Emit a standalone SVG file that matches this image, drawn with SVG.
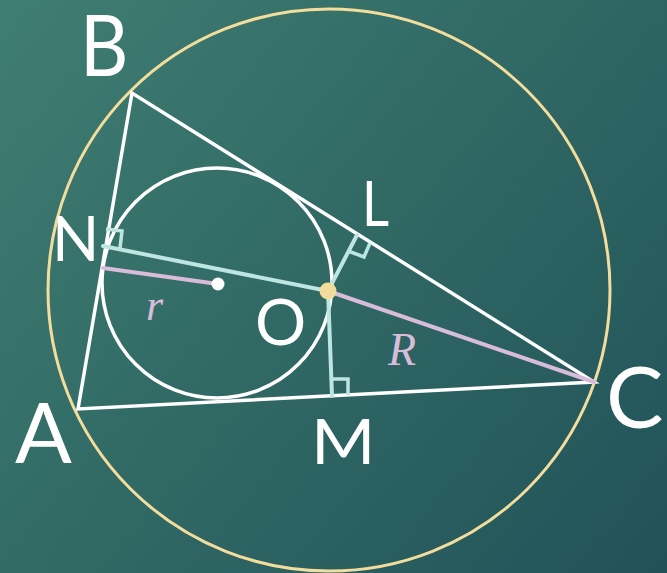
<svg xmlns="http://www.w3.org/2000/svg" width="667" height="573" viewBox="0 0 667 573">
  <defs>
    <linearGradient id="bg" x1="0" y1="0" x2="667" y2="573" gradientUnits="userSpaceOnUse">
      <stop offset="0" stop-color="#3f7e72"/>
      <stop offset="0.5" stop-color="#306864"/>
      <stop offset="1" stop-color="#215259"/>
    </linearGradient>
    <style>
      .white { fill: none; stroke: #ffffff; stroke-width: 3.5; stroke-linejoin: miter; }
      .circ { fill: none; stroke: #f3dd9d; stroke-width: 3; }
      .cyan { fill: none; stroke: #bde6e2; stroke-width: 4; stroke-linecap: round; }
      .pink { fill: none; stroke: #d9bcd9; stroke-width: 4; stroke-linecap: round; }
      .mark { fill: none; stroke: #bde6e2; stroke-width: 3.5; stroke-linejoin: miter; }
      .lbl { fill: #ffffff; font-family: Lato, "Liberation Sans", Arial, sans-serif; font-weight: 400; }
      .ital { fill: #d9bcd9; font-family: "Liberation Serif", "Times New Roman", serif; font-style: italic; }
    </style>
  </defs>

  <rect width="667" height="573" fill="url(#bg)"/>

  <g id="circumcircle">
    <circle class="circ" cx="329" cy="290" r="281"/>
  </g>

  <g id="triangle-ABC">
    <polygon class="white" points="78,409 132,93 594,382"/>
  </g>

  <g id="incircle">
    <circle class="white" cx="217" cy="283" r="115"/>
  </g>

  <g id="connectors">
    <line class="cyan" x1="328" y1="291" x2="103" y2="246"/>
    <line class="cyan" x1="328" y1="291" x2="357" y2="235"/>
    <line class="cyan" x1="328" y1="291" x2="332" y2="396"/>
    <line class="pink" x1="103" y1="268" x2="218" y2="284"/>
    <line class="pink" x1="328" y1="291" x2="594" y2="382"/>
    <polyline class="mark" points="106,229 122,231 120,248"/>
    <polyline class="mark" points="348,251 364,257 370,243"/>
    <polyline class="mark" points="332,379 348,379 348,395"/>
  </g>

  <g id="point-O">
    <circle cx="328" cy="291" r="8.5" fill="#f2dc9c"/>
  </g>
  <g id="point-I">
    <circle cx="218" cy="284" r="6.5" fill="#ffffff"/>
  </g>

  <g id="labels">
    <text class="lbl" transform="translate(80,76) scale(0.88,1)" font-size="85">B</text>
    <text class="lbl" x="15" y="463" font-size="84">A</text>
    <text class="lbl" x="606" y="428" font-size="86">C</text>
    <text class="lbl" x="52" y="261" font-size="62">N</text>
    <text class="lbl" transform="translate(362,226) scale(0.85,1)" font-size="62">L</text>
    <text class="lbl" x="255" y="345" font-size="64">O</text>
    <text class="lbl" transform="translate(311,464) scale(1.12,1)" font-size="62">M</text>
    <text class="ital" x="146" y="320" font-size="44">r</text>
    <text class="ital" x="388" y="365" font-size="46">R</text>
  </g>
</svg>
